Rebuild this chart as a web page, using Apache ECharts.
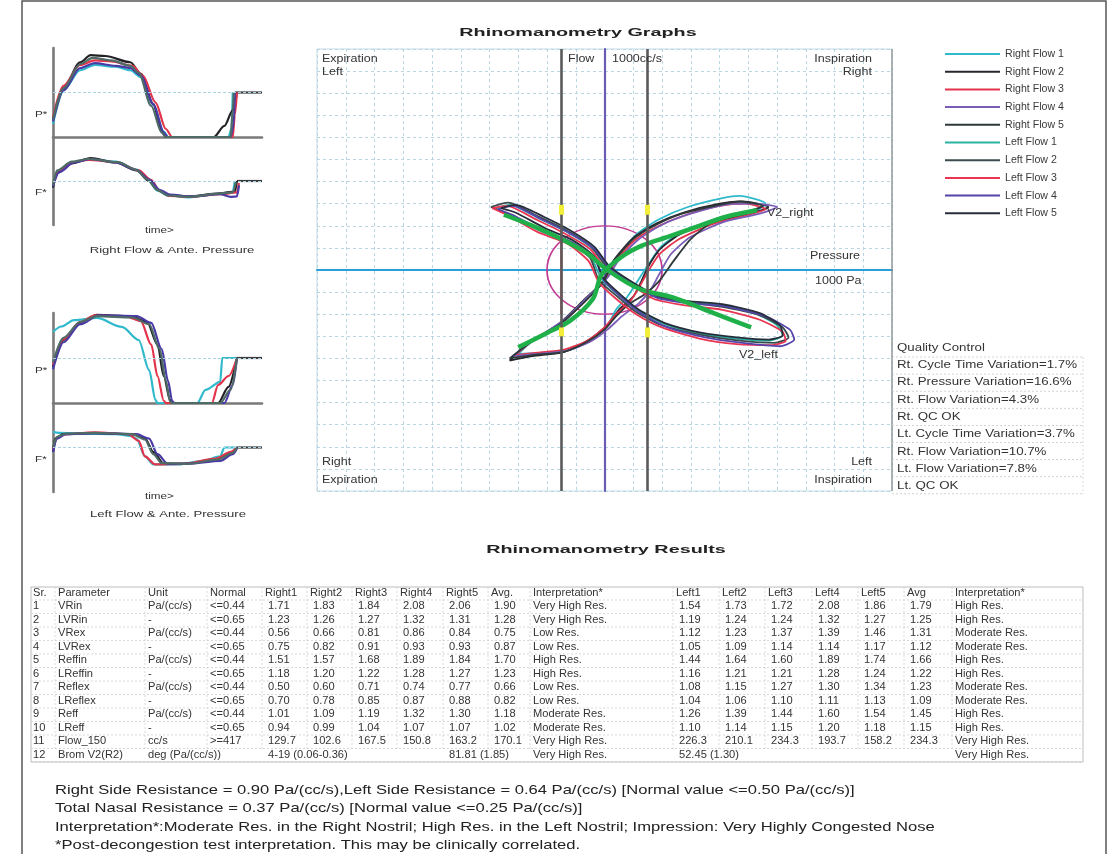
<!DOCTYPE html>
<html><head><meta charset="utf-8">
<script src="https://cdn.jsdelivr.net/npm/echarts@6.0.0/dist/echarts.min.js"></script>
<style>html,body{margin:0;padding:0;background:#fff}#c{width:1118px;height:854px}</style>
</head><body><div id="c"></div>
<script>
// ---------------- DATA ----------------
const legendNames = ['Right Flow 1','Right Flow 2','Right Flow 3','Right Flow 4','Right Flow 5','Left Flow 1','Left Flow 2','Left Flow 3','Left Flow 4','Left Flow 5'];

// Flow-pressure loops (x: pressure units, y: flow units)
const rightFlow1 = [[-3.0,-3.8],[-2.5,-3.2],[-1.5,-2.45],[-0.7,-1.4],[0,-0.5],[0.4,0.5],[1.1,1.6],[1.9,2.3],[2.9,2.85],[4.1,3.25],[4.7,3.35],[5.6,3.0],[5.3,2.7],[4.1,2.4],[2.8,1.8],[2.0,1.1],[1.5,0.2],[1.1,-0.6],[0.8,-1.2],[0.4,-1.8],[0.1,-2.5],[-0.5,-3.2],[-1.3,-3.65],[-2.3,-3.75],[-3.0,-3.8]];
const rightFlow2 = [[-3.3,-4.1],[-2.7,-3.35],[-1.6,-2.45],[-0.75,-1.4],[-0.05,-0.5],[0.3,0.4],[1.0,1.45],[1.8,2.1],[2.75,2.6],[4.0,3.0],[4.8,3.1],[5.7,2.85],[5.2,2.6],[3.9,2.2],[2.6,1.6],[1.9,0.9],[1.5,0.1],[1.25,-0.6],[1.0,-1.2],[0.5,-1.8],[0.1,-2.5],[-0.6,-3.2],[-1.4,-3.7],[-2.5,-3.9],[-3.3,-4.1]];
const rightFlow3 = [[-3.1,-3.85],[-2.5,-3.2],[-1.4,-2.3],[-0.6,-1.3],[0.05,-0.4],[0.45,0.5],[1.1,1.4],[1.9,2.0],[2.85,2.5],[4.0,2.9],[4.9,3.0],[5.6,2.75],[5.0,2.5],[3.8,2.1],[2.6,1.4],[1.9,0.7],[1.5,-0.1],[1.2,-0.8],[0.9,-1.4],[0.4,-2.0],[0.0,-2.6],[-0.6,-3.2],[-1.4,-3.6],[-2.4,-3.75],[-3.1,-3.85]];
const rightFlow4 = [[-3.2,-3.9],[-2.5,-3.2],[-1.45,-2.3],[-0.6,-1.25],[0.1,-0.35],[0.5,0.45],[1.2,1.4],[2.0,2.05],[3.0,2.55],[4.2,2.95],[5.2,3.0],[6.0,2.85],[5.4,2.55],[4.2,2.2],[3.0,1.5],[2.3,0.7],[1.9,-0.2],[1.6,-0.9],[1.2,-1.5],[0.6,-2.1],[0.1,-2.7],[-0.5,-3.25],[-1.3,-3.65],[-2.4,-3.8],[-3.2,-3.9]];
const rightFlow5 = [[-3.3,-4.0],[-2.6,-3.3],[-1.55,-2.45],[-0.7,-1.45],[-0.05,-0.55],[0.3,0.35],[1.0,1.4],[1.8,2.05],[2.7,2.55],[4.0,2.95],[4.7,3.1],[5.5,2.9],[5.0,2.65],[3.9,2.3],[3.0,1.4],[2.4,0.4],[1.9,-0.5],[1.4,-1.1],[0.9,-1.5],[0.4,-2.1],[0.0,-2.7],[-0.6,-3.25],[-1.4,-3.7],[-2.5,-3.85],[-3.3,-4.0]];
const leftFlow1 = [[-3.8,2.8],[-3.3,2.95],[-2.3,2.35],[-1.35,1.75],[-0.45,1.0],[0.1,0.15],[0.8,-0.45],[1.7,-1.15],[2.8,-1.45],[4.1,-1.6],[5.3,-2.0],[6.0,-2.5],[6.2,-2.95],[5.7,-3.2],[4.6,-3.1],[3.4,-2.9],[2.1,-2.45],[1.2,-1.85],[0.5,-1.15],[-0.1,-0.4],[-0.45,0.5],[-1.2,1.25],[-2.2,1.75],[-3.3,2.5],[-3.8,2.8]];
const leftFlow2 = [[-3.95,2.85],[-3.35,3.05],[-2.35,2.45],[-1.4,1.85],[-0.5,1.1],[0.05,0.2],[0.75,-0.4],[1.65,-1.15],[2.75,-1.45],[4.0,-1.65],[5.4,-2.05],[6.2,-2.6],[6.4,-3.05],[5.9,-3.3],[4.7,-3.2],[3.4,-2.95],[2.0,-2.5],[1.1,-1.9],[0.45,-1.2],[-0.2,-0.45],[-0.5,0.55],[-1.25,1.3],[-2.25,1.8],[-3.4,2.55],[-3.95,2.85]];
const leftFlow3 = [[-3.9,2.8],[-3.4,2.9],[-2.4,2.3],[-1.45,1.7],[-0.5,0.95],[0.05,0.05],[0.8,-0.55],[1.7,-1.3],[2.8,-1.6],[4.1,-1.8],[5.4,-2.25],[6.2,-2.8],[6.3,-3.2],[5.8,-3.4],[4.6,-3.35],[3.3,-3.1],[2.0,-2.6],[1.1,-2.0],[0.4,-1.3],[-0.2,-0.55],[-0.55,0.4],[-1.3,1.2],[-2.3,1.7],[-3.4,2.5],[-3.9,2.8]];
const leftFlow4 = [[-3.7,2.75],[-3.2,2.9],[-2.2,2.3],[-1.25,1.7],[-0.35,0.95],[0.2,0.05],[0.9,-0.55],[1.8,-1.25],[2.9,-1.5],[4.2,-1.65],[5.6,-2.1],[6.45,-2.7],[6.6,-3.15],[6.1,-3.45],[4.8,-3.3],[3.5,-3.05],[2.2,-2.6],[1.25,-1.95],[0.6,-1.25],[0.0,-0.5],[-0.35,0.5],[-1.1,1.25],[-2.1,1.75],[-3.2,2.5],[-3.7,2.75]];
const leftFlow5 = [[-3.6,2.8],[-3.1,2.95],[-2.1,2.4],[-1.2,1.8],[-0.35,1.05],[0.15,0.2],[0.85,-0.45],[1.75,-1.1],[2.85,-1.4],[4.1,-1.55],[5.4,-1.95],[6.1,-2.5],[6.2,-2.95],[5.7,-3.15],[4.6,-3.05],[3.4,-2.85],[2.1,-2.4],[1.2,-1.8],[0.55,-1.1],[-0.05,-0.35],[-0.35,0.6],[-1.1,1.35],[-2.0,1.85],[-3.1,2.6],[-3.6,2.8]];
const v2Right = [[-3.0,-3.5],[-2.0,-2.85],[-1.2,-2.3],[-0.4,-1.3],[-0.1,-0.2],[0.6,0.6],[1.3,1.1],[2.2,1.5],[3.2,1.95],[4.2,2.4],[5.3,2.7]];
const v2Left = [[-3.5,2.5],[-2.5,2.0],[-1.5,1.4],[-0.6,0.75],[0.1,0.0],[1.2,-0.85],[2.4,-1.25],[3.8,-1.95],[5.1,-2.6]];
const flowMarks = [-1.5, 1.5];
const refCircle = [[0, 0, 2]];
const redSegment = [[-1.5, 2.0], [-1.5, -2.0]];
const yellowMarks = [[[-1.5,2.5],[-1.5,2.95]],[[1.5,2.5],[1.5,2.95]],[[1.5,-2.6],[1.5,-3.05]],[[-1.5,-2.6],[-1.5,-3.0]]];

// Time curves (x: time 0..100)
const rtP1 = [[0,0.3],[5,1.05],[13,1.5],[20,1.62],[30,1.58],[37,1.5],[42,1.35],[48,0.72],[53,0.12],[55,0],[84,0],[85.5,0.2],[86,1.0]];
const rtP2 = [[0,0.4],[5,1.1],[13,1.68],[18,1.84],[25,1.82],[37,1.68],[42,1.42],[48,0.74],[52,0.15],[54,0],[77,0],[82,0.25],[86,0.6],[88,1.0]];
const rtP3 = [[0,0.45],[5,1.15],[13,1.62],[20,1.72],[28,1.7],[38,1.6],[43,1.38],[49,0.78],[54,0.18],[57,0],[86,0],[87,0.5],[88,1.0]];
const rtP4 = [[0,0.35],[5,1.05],[13,1.55],[20,1.66],[30,1.6],[37,1.55],[42,1.38],[48,0.74],[53,0.1],[55,0],[85,0],[86.5,0.3],[87,1.0]];
const rtP5 = [[0,0.4],[5,1.1],[13,1.64],[19,1.78],[28,1.72],[37,1.6],[41,1.44],[47,0.7],[52,0.1],[54,0],[85,0],[86,0.6],[86.5,1.0]];
const rtF1 = [[0,-0.1],[2,0.2],[9,0.42],[17,0.5],[30,0.44],[40,0.26],[45,0.05],[50,-0.22],[55,-0.33],[65,-0.37],[80,-0.29],[86,-0.25],[87,0]];
const rtF2 = [[0,-0.15],[2,0.18],[9,0.4],[18,0.52],[30,0.42],[40,0.24],[46,0.0],[50,-0.2],[55,-0.32],[65,-0.35],[80,-0.28],[87,-0.24],[88,0]];
const rtF3 = [[0,-0.1],[3,0.22],[10,0.43],[17,0.48],[30,0.43],[41,0.24],[47,0.02],[51,-0.22],[56,-0.34],[66,-0.36],[80,-0.3],[88,-0.26],[89,-0.05]];
const rtF4 = [[0,-0.12],[3,0.2],[10,0.42],[18,0.5],[30,0.42],[40,0.25],[46,0.03],[51,-0.2],[56,-0.31],[66,-0.35],[80,-0.3],[85,-0.36],[88,-0.35],[89,-0.1]];
const rtF5 = [[0,-0.1],[2,0.24],[9,0.44],[17,0.5],[31,0.43],[40,0.25],[45,0.04],[50,-0.2],[55,-0.33],[65,-0.36],[80,-0.28],[86,-0.26],[87.5,-0.02]];
const ltP1 = [[0,1.58],[4,1.7],[10,1.84],[21,1.89],[33,1.69],[41,1.4],[46,0.73],[49,0.07],[50,0],[69,0],[73,0.29],[80,0.47],[81,1.0],[88,1.0]];
const ltP2 = [[0,0.8],[5,1.4],[13,1.78],[21,1.96],[37,1.93],[45,1.8],[50,1.3],[53,0.6],[56,0.07],[57,0],[79,0],[84,0.36],[88,1.0]];
const ltP3 = [[0,0.85],[5,1.42],[13,1.8],[20,1.95],[35,1.92],[42,1.82],[47,1.3],[50,0.6],[53,0.05],[54,0],[76,0],[79,0.4],[84,0.6],[88,1.0]];
const ltP4 = [[0,0.75],[5,1.35],[13,1.75],[22,1.95],[40,1.93],[47,1.78],[52,1.2],[55,0.5],[57,0.05],[58,0],[82,0],[86,0.4],[88,1.0]];
const ltP5 = [[0,0.9],[5,1.45],[13,1.8],[21,1.93],[38,1.9],[46,1.75],[51,1.2],[54,0.5],[56,0.03],[57,0],[80,0],[85,0.3],[88,1.0]];
const ltF1 = [[0,0.35],[3,0.33],[15,0.31],[30,0.3],[37,0.26],[40,0.2],[44,-0.2],[48,-0.38],[60,-0.38],[72,-0.3],[80,-0.2],[82,0],[88,0]];
const ltF2 = [[0,-0.1],[1,0.2],[5,0.3],[20,0.32],[38,0.3],[44,0.2],[48,-0.1],[53,-0.36],[65,-0.36],[78,-0.26],[85,-0.12],[88,0]];
const ltF3 = [[0,-0.05],[2,0.22],[6,0.3],[20,0.34],[36,0.3],[41,0.15],[44,-0.2],[49,-0.38],[62,-0.37],[78,-0.25],[85,-0.1],[88,0]];
const ltF4 = [[0,-0.1],[2,0.2],[6,0.3],[20,0.32],[40,0.3],[46,0.2],[50,-0.15],[55,-0.37],[66,-0.36],[80,-0.3],[86,-0.15],[88,-0.02]];
const ltF5 = [[0,0],[2,0.24],[6,0.31],[20,0.33],[38,0.3],[44,0.18],[48,-0.15],[52,-0.35],[64,-0.37],[79,-0.27],[86,-0.12],[88,0]];
const pressureStep = [[87,1],[100,1]];
const flowStep = [[88,0],[100,0]];

// Quality control
const qcLines = ['Quality Control','Rt. Cycle Time Variation=1.7%','Rt. Pressure Variation=16.6%','Rt. Flow Variation=4.3%','Rt. QC OK','Lt. Cycle Time Variation=3.7%','Rt. Flow Variation=10.7%','Lt. Flow Variation=7.8%','Lt. QC OK'];

// Results table
const tableHeader = ['Sr.','Parameter','Unit','Normal','Right1','Right2','Right3','Right4','Right5','Avg.','Interpretation*','Left1','Left2','Left3','Left4','Left5','Avg','Interpretation*'];
const srNo = ['1','2','3','4','5','6','7','8','9','10','11','12'];
const params = ['VRin','LVRin','VRex','LVRex','Reffin','LReffin','Reflex','LReflex','Reff','LReff','Flow_150','Brom V2(R2)'];
const units = ['Pa/(cc/s)','-','Pa/(cc/s)','-','Pa/(cc/s)','-','Pa/(cc/s)','-','Pa/(cc/s)','-','cc/s','deg (Pa/(cc/s))'];
const normals = ['<=0.44','<=0.65','<=0.44','<=0.65','<=0.44','<=0.65','<=0.44','<=0.65','<=0.44','<=0.65','>=417',''];
const rightVals = [
 ['1.71','1.83','1.84','2.08','2.06','1.90'],['1.23','1.26','1.27','1.32','1.31','1.28'],
 ['0.56','0.66','0.81','0.86','0.84','0.75'],['0.75','0.82','0.91','0.93','0.93','0.87'],
 ['1.51','1.57','1.68','1.89','1.84','1.70'],['1.18','1.20','1.22','1.28','1.27','1.23'],
 ['0.50','0.60','0.71','0.74','0.77','0.66'],['0.70','0.78','0.85','0.87','0.88','0.82'],
 ['1.01','1.09','1.19','1.32','1.30','1.18'],['0.94','0.99','1.04','1.07','1.07','1.02'],
 ['129.7','102.6','167.5','150.8','163.2','170.1'],['4-19 (0.06-0.36)','','','','81.81 (1.85)','']];
const rightInterp = ['Very High Res.','Very High Res.','Low Res.','Low Res.','High Res.','High Res.','Low Res.','Low Res.','Moderate Res.','Moderate Res.','Very High Res.','Very High Res.'];
const leftVals = [
 ['1.54','1.73','1.72','2.08','1.86','1.79'],['1.19','1.24','1.24','1.32','1.27','1.25'],
 ['1.12','1.23','1.37','1.39','1.46','1.31'],['1.05','1.09','1.14','1.14','1.17','1.12'],
 ['1.44','1.64','1.60','1.89','1.74','1.66'],['1.16','1.21','1.21','1.28','1.24','1.22'],
 ['1.08','1.15','1.27','1.30','1.34','1.23'],['1.04','1.06','1.10','1.11','1.13','1.09'],
 ['1.26','1.39','1.44','1.60','1.54','1.45'],['1.10','1.14','1.15','1.20','1.18','1.15'],
 ['226.3','210.1','234.3','193.7','158.2','234.3'],['52.45 (1.30)','','','','','']];
const leftInterp = ['High Res.','High Res.','Moderate Res.','Moderate Res.','High Res.','High Res.','Moderate Res.','Moderate Res.','High Res.','High Res.','Very High Res.','Very High Res.'];

const summaryLines = [
 'Right Side Resistance = 0.90 Pa/(cc/s),Left Side Resistance = 0.64 Pa/(cc/s) [Normal value <=0.50 Pa/(cc/s)]',
 'Total Nasal Resistance = 0.37 Pa/(cc/s) [Normal value <=0.25 Pa/(cc/s)]',
 'Interpretation*:Moderate Res. in the Right Nostril; High Res. in the Left Nostril; Impression: Very Highly Congested Nose',
 '*Post-decongestion test interpretation. This may be clinically correlated.'];

// ---------------- STYLE / LAYOUT ----------------
const lineColors = ['#2fb9cb','#26282e','#e3344b','#7a5db6','#2f3838','#2bb3a4','#3b4b4d','#ea3552','#5545aa','#262d3b'];
const smallColors = ['#2fb9cb','#222226','#e3344b','#4a3aa6','#4f6b66'];
const FONT = '"Liberation Sans", Arial, sans-serif';
const rightLoops = [rightFlow1,rightFlow2,rightFlow3,rightFlow4,rightFlow5];
const leftLoops = [leftFlow1,leftFlow2,leftFlow3,leftFlow4,leftFlow5];

const g = [];
function txt(x, y, s, fs, o) {
  o = o || {};
  g.push({type:'text', x:x, y:y, scaleX:o.sx||1, z:20, silent:true,
    style:{text:s, fill:o.c||'#333', fontSize:fs, fontFamily:FONT, fontWeight:o.w||'normal',
      textAlign:o.a||'left', textVerticalAlign:'middle'}});
}
function ln(x1, y1, x2, y2, c, w, dash) {
  g.push({type:'line', z:15, silent:true, shape:{x1:x1,y1:y1,x2:x2,y2:y2}, style:{stroke:c, lineWidth:w, lineDash:dash||null}});
}

// frame
g.push({type:'rect', z:1, silent:true, shape:{x:22,y:1,width:1084,height:870}, style:{fill:'transparent', stroke:'#555', lineWidth:1.5}});
// titles
txt(578, 33, 'Rhinomanometry Graphs', 11.5, {w:'bold', sx:1.72, a:'center', c:'#222'});
txt(606, 550, 'Rhinomanometry Results', 11.5, {w:'bold', sx:1.72, a:'center', c:'#222'});
// main chart annotations
const SX = 1.25;
txt(322, 59, 'Expiration', 10, {sx:SX}); txt(322, 72, 'Left', 10, {sx:SX});
txt(872, 59, 'Inspiration', 10, {sx:SX, a:'right'}); txt(872, 72, 'Right', 10, {sx:SX, a:'right'});
txt(568, 59, 'Flow', 10, {sx:SX}); txt(612, 59, '1000cc/s', 10, {sx:SX});
txt(767, 213, 'V2_right', 10, {sx:SX}); txt(810, 256, 'Pressure', 10, {sx:SX}); txt(815, 281, '1000 Pa', 10, {sx:SX});
txt(739, 355, 'V2_left', 10, {sx:SX});
txt(322, 462, 'Right', 10, {sx:SX}); txt(322, 480, 'Expiration', 10, {sx:SX});
txt(872, 462, 'Left', 10, {sx:SX, a:'right'}); txt(872, 480, 'Inspiration', 10, {sx:SX, a:'right'});
// main chart right edge + QC box
ln(892, 49, 892, 491, '#8a8a8a', 1.2);
qcLines.forEach(function(s, i){ txt(897, 348 + i*17.3, s, 10, {sx:1.33}); });
for (let i = 0; i < 9; i++) { ln(892, 357 + i*17.1, 1083, 357 + i*17.1, '#c9c9c9', 0.8, [2,2]); }
ln(1083, 357, 1083, 494, '#d0d0d0', 0.8, [2,2]);
// small plot labels
txt(35, 115, 'P*', 9, {sx:1.3}); txt(35, 193, 'F*', 9, {sx:1.3});
txt(145, 231, 'time>', 9, {sx:1.3}); txt(172, 250, 'Right Flow & Ante. Pressure', 9.5, {sx:1.38, a:'center'});
txt(35, 371, 'P*', 9, {sx:1.3}); txt(35, 460, 'F*', 9, {sx:1.3});
txt(145, 497, 'time>', 9, {sx:1.3}); txt(168, 514, 'Left Flow & Ante. Pressure', 9.5, {sx:1.38, a:'center'});

// results table
const colX = [33, 58, 148, 210, 265, 310, 355, 400, 446, 491, 533, 676, 722, 768, 815, 861, 907, 955];
const TOP = 587, HEAD_Y = 593.5, ROW0 = 606.5, PITCH = 13.5, BOTTOM = 762, RIGHT = 1083;
g.push({type:'rect', z:14, silent:true, shape:{x:31,y:TOP,width:RIGHT-31,height:BOTTOM-TOP}, style:{fill:'transparent', stroke:'#bdbdbd', lineWidth:1}});
for (let i = 0; i <= 12; i++) { ln(31, 600 + i*PITCH, RIGHT, 600 + i*PITCH, '#cfcfcf', 0.8, [2,2]); }
for (let c = 1; c < colX.length; c++) { ln(colX[c]-3, TOP, colX[c]-3, 749.5, '#cfcfcf', 0.8, [2,2]); }
const TF = 10.3, TS = 1.08;
tableHeader.forEach(function(h, c){ txt(colX[c], HEAD_Y, h, TF, {sx:TS}); });
for (let r = 0; r < 12; r++) {
  const y = ROW0 + r*PITCH;
  txt(colX[0], y, srNo[r], TF, {sx:TS});
  txt(colX[1], y, params[r], TF, {sx:TS});
  txt(colX[2], y, units[r], TF, {sx:TS});
  txt(colX[3], y, normals[r], TF, {sx:TS});
  for (let k = 0; k < 6; k++) {
    if (rightVals[r][k]) txt(colX[4+k] + 3, y, rightVals[r][k], TF, {sx:TS});
    if (leftVals[r][k]) txt(colX[11+k] + 3, y, leftVals[r][k], TF, {sx:TS});
  }
  txt(colX[10], y, rightInterp[r], TF, {sx:TS});
  txt(colX[17], y, leftInterp[r], TF, {sx:TS});
}
// summary
summaryLines.forEach(function(s, i){ txt(55, [790, 808, 827, 845][i], s, 13, {sx:1.275, c:'#222'}); });

// ---------------- SERIES ----------------
const series = [];
series.push({type:'line', xAxisIndex:0, yAxisIndex:0, data:redSegment, symbol:'none', z:2,
  lineStyle:{color:'#e8243c', width:2},
  markLine:{symbol:'none', silent:true, label:{show:false}, lineStyle:{color:'#5a5a5a', width:2.6, type:'solid'},
    data: flowMarks.map(function(v){ return {xAxis:v}; })}});
series.push({type:'line', xAxisIndex:0, yAxisIndex:0, data:[], symbol:'none', z:2,
  markLine:{symbol:'none', silent:true, label:{show:false}, lineStyle:{color:'#f2ee3a', width:5, type:'solid'},
    data: yellowMarks.map(function(p){ return [{coord:p[0]},{coord:p[1]}]; })}});
series.push({type:'custom', xAxisIndex:0, yAxisIndex:0, data:refCircle, z:2, silent:true,
  renderItem:function(params, api){
    const c = api.coord([api.value(0), api.value(1)]);
    const s = api.size([api.value(2), api.value(2)]);
    return {type:'circle', x:c[0], y:c[1], scaleX:s[0]/s[1], shape:{cx:0, cy:0, r:s[1]},
      style:{fill:'none', stroke:'#c23a92', lineWidth:1.3, strokeNoScale:true}};
  }});
rightLoops.forEach(function(d, i){
  series.push({name:legendNames[i], type:'line', xAxisIndex:0, yAxisIndex:0, data:d, symbol:'none', smooth:0.22, z:3,
    lineStyle:{color:lineColors[i], width:1.8}, itemStyle:{color:lineColors[i]}});
});
leftLoops.forEach(function(d, i){
  series.push({name:legendNames[5+i], type:'line', xAxisIndex:0, yAxisIndex:0, data:d, symbol:'none', smooth:0.22, z:3,
    lineStyle:{color:lineColors[5+i], width:1.8}, itemStyle:{color:lineColors[5+i]}});
});
[v2Right, v2Left].forEach(function(d){
  series.push({type:'line', xAxisIndex:0, yAxisIndex:0, data:d, symbol:'none', smooth:0.3, z:4,
    lineStyle:{color:'#1fb04a', width:4.5}});
});
const smallSets = [[rtP1,rtP2,rtP3,rtP4,rtP5],[rtF1,rtF2,rtF3,rtF4,rtF5],[ltP1,ltP2,ltP3,ltP4,ltP5],[ltF1,ltF2,ltF3,ltF4,ltF5]];
smallSets.forEach(function(set, gi){
  const isP = gi % 2 === 0;
  series.push({type:'line', xAxisIndex:gi+1, yAxisIndex:gi+1, data: isP ? pressureStep : flowStep, symbol:'none', z:3,
    lineStyle:{color:'#3a3a3a', width:2.2},
    markLine:{symbol:'none', silent:true, label:{show:false}, lineStyle:{color:'#a9d3e3', width:1, type:[3,2]},
      data:[{yAxis: isP ? 1 : 0}]}});
  set.forEach(function(d, i){
    series.push({name:legendNames[(gi < 2 ? 0 : 5) + i], type:'line', xAxisIndex:gi+1, yAxisIndex:gi+1, data:d, symbol:'none',
      smooth:0.3, smoothMonotone:'x', z:4, lineStyle:{color:smallColors[i], width:2.2}, itemStyle:{color:lineColors[(gi<2?0:5)+i]}});
  });
});

const smallGrids = [{left:53, top:48, width:209, height:89},{left:53, top:137, width:209, height:88},{left:53, top:313, width:209, height:90},{left:53, top:403, width:209, height:89}];
const hidden = {show:false};
const xAxes = [{gridIndex:0, type:'value', min:-10, max:10, interval:1,
  axisLine:{onZero:true, lineStyle:{color:'#2a9fd8', width:2.2}}, axisTick:hidden, axisLabel:hidden,
  splitLine:{show:true, lineStyle:{color:'#b9d6e2', width:1, type:[3,3]}}}];
const yAxes = [{gridIndex:0, type:'value', min:-10, max:10, interval:1,
  axisLine:{onZero:true, lineStyle:{color:'#6c5bb2', width:2.2}}, axisTick:hidden, axisLabel:hidden,
  splitLine:{show:true, lineStyle:{color:'#b9d6e2', width:1, type:[3,3]}}}];
smallGrids.forEach(function(gr, i){
  const isP = i % 2 === 0;
  xAxes.push({gridIndex:i+1, type:'value', min:0, max:100, axisTick:hidden, axisLabel:hidden, splitLine:hidden,
    axisLine:{show:isP, onZero:true, lineStyle:{color:'#7a7a7a', width:2.6}}});
  yAxes.push({gridIndex:i+1, type:'value', min: isP ? 0 : -1, max: isP ? 2 : 1, axisTick:hidden, axisLabel:hidden, splitLine:hidden,
    axisLine:{show:true, onZero:false, lineStyle:{color:'#7a7a7a', width:2.6}}});
});

const chart = echarts.init(document.getElementById('c'), null, {renderer:'canvas'});
chart.setOption({
  animation:false,
  backgroundColor:'#ffffff',
  textStyle:{fontFamily:FONT},
  grid:[{left:317, top:49, width:575, height:442, show:true, borderColor:'#c4dbe4', borderWidth:1, backgroundColor:'transparent'}].concat(smallGrids),
  xAxis:xAxes,
  yAxis:yAxes,
  legend:{data:legendNames, orient:'vertical', left:940, top:43.5, icon:'rect', itemWidth:55, itemHeight:2, itemGap:6.7,
    selectedMode:false, textStyle:{fontSize:10.6, color:'#3a3a3a', fontFamily:FONT}},
  series:series,
  graphic:{elements:g}
});
</script></body></html>
